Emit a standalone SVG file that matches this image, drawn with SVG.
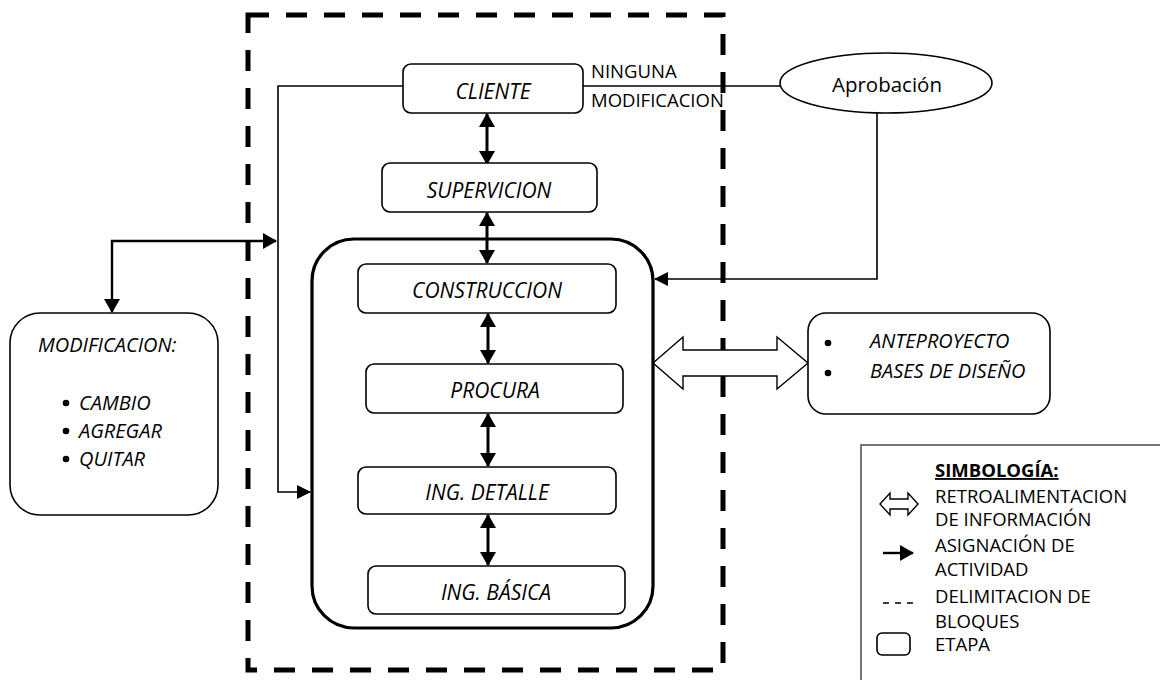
<svg xmlns="http://www.w3.org/2000/svg" width="1160" height="680" viewBox="0 0 1160 680">
  <style>
    text { font-family: "Open Sans", "Noto Sans", "Liberation Sans", sans-serif; fill: #000; }
    .lbl { font-size: 21px; font-style: italic; text-anchor: middle; }
    .it { font-size: 20px; font-style: italic; }
    .plain { font-size: 18.5px; }
    .stage { fill: #fff; stroke: #000; stroke-width: 1.6; }
    .wire { fill: none; stroke: #000; stroke-width: 1.6; }
    .dbl { fill: none; stroke: #000; stroke-width: 3; }
    .hollow { fill: #fff; stroke: #000; stroke-width: 1.4; stroke-linejoin: miter; }
  </style>
  <defs>
    <marker id="head" viewBox="0 0 14 16" refX="13" refY="8" markerWidth="14" markerHeight="16" markerUnits="userSpaceOnUse" orient="auto-start-reverse">
      <path d="M0,0 L14,8 L0,16 z" fill="#000"/>
    </marker>
    <marker id="headS" viewBox="0 0 14 14" refX="13" refY="7" markerWidth="14" markerHeight="14" markerUnits="userSpaceOnUse" orient="auto-start-reverse">
      <path d="M0,0 L14,7 L0,14 z" fill="#000"/>
    </marker>
  </defs>

  <rect width="1160" height="680" fill="#fff"/>

  <!-- block boundary -->
  <rect id="block" x="248" y="15" width="475" height="655" fill="none" stroke="#000" stroke-width="5" stroke-dasharray="21 17"/>

  <!-- connectors -->
  <g id="connectors">
    <path class="wire" d="M403 86 H278 V492 H310" marker-end="url(#headS)"/>
    <path class="wire" d="M583 86 H780"/>
    <path class="wire" d="M877 113 V279 H655" marker-end="url(#headS)"/>
    <path class="dbl" d="M112 312 V241 H276" marker-start="url(#head)" marker-end="url(#head)" style="stroke-width:2.4"/>
    <path class="dbl" d="M487 114 V164" marker-start="url(#head)" marker-end="url(#head)"/>
    <path class="dbl" d="M487 213 V263" marker-start="url(#head)" marker-end="url(#head)"/>
    <path class="dbl" d="M488 314 V363" marker-start="url(#head)" marker-end="url(#head)"/>
    <path class="dbl" d="M488 414 V466" marker-start="url(#head)" marker-end="url(#head)"/>
    <path class="dbl" d="M488 515 V565" marker-start="url(#head)" marker-end="url(#head)"/>
    <polygon class="hollow" points="653,363 683,337 683,350 777,350 777,337 808,363 777,389 777,376 683,376 683,389"/>
  </g>

  <!-- stage container -->
  <g id="etapas">
    <rect x="312" y="239" width="341" height="389" rx="42" fill="none" stroke="#000" stroke-width="3.2"/>
  </g>

  <g id="cliente">
    <rect class="stage" x="403" y="64" width="180" height="49" rx="8"/>
    <text class="lbl" x="493" y="99">CLIENTE</text>
  </g>
  <text class="plain" x="591" y="78">NINGUNA</text>
  <text class="plain" x="591" y="107">MODIFICACION</text>

  <g id="supervicion">
    <rect class="stage" x="382" y="163" width="215" height="49" rx="8"/>
    <text class="lbl" x="489" y="198">SUPERVICION</text>
  </g>

  <g id="construccion">
    <rect class="stage" x="358" y="264" width="258" height="49" rx="8"/>
    <text class="lbl" x="487" y="298">CONSTRUCCION</text>
  </g>

  <g id="procura">
    <rect class="stage" x="366" y="364" width="257" height="49" rx="8"/>
    <text class="lbl" x="495" y="398">PROCURA</text>
  </g>

  <g id="ing-detalle">
    <rect class="stage" x="358" y="467" width="258" height="47" rx="8"/>
    <text class="lbl" x="487" y="500">ING. DETALLE</text>
  </g>

  <g id="ing-basica">
    <rect class="stage" x="368" y="566" width="257" height="48" rx="8"/>
    <text class="lbl" x="496" y="600">ING. BÁSICA</text>
  </g>

  <g id="aprobacion">
    <ellipse cx="886" cy="83" rx="106" ry="30" fill="#fff" stroke="#000" stroke-width="1.6"/>
    <text x="887" y="92" style="font-size:20.5px; text-anchor:middle">Aprobación</text>
  </g>

  <g id="modificacion">
    <rect class="stage" x="10" y="313" width="208" height="202" rx="30"/>
    <text class="it" x="38" y="352">MODIFICACION:</text>
    <circle cx="66" cy="403" r="3.3"/>
    <text class="it" x="79" y="410">CAMBIO</text>
    <circle cx="66" cy="431" r="3.3"/>
    <text class="it" x="79" y="438">AGREGAR</text>
    <circle cx="66" cy="459" r="3.3"/>
    <text class="it" x="79" y="466">QUITAR</text>
  </g>

  <g id="insumos">
    <rect class="stage" x="808" y="313" width="242" height="101" rx="18"/>
    <circle cx="828" cy="343" r="3.3"/>
    <text class="it" x="870" y="348">ANTEPROYECTO</text>
    <circle cx="828" cy="373" r="3.3"/>
    <text class="it" x="870" y="378">BASES DE DISEÑO</text>
  </g>

  <!-- legend -->
  <g id="simbologia">
    <rect x="861" y="445" width="310" height="250" fill="#fff" stroke="#555" stroke-width="1.6"/>
    <text x="935" y="477" style="font-size:18.5px; font-weight:bold; text-decoration:underline">SIMBOLOGÍA:</text>
    <polygon class="hollow" points="880,504 890,493 890,499 908,499 908,493 918,504 908,515 908,509 890,509 890,515"/>
    <text class="plain" x="935" y="503">RETROALIMENTACION</text>
    <text class="plain" x="935" y="526">DE INFORMACIÓN</text>
    <path class="wire" d="M883 553 H913" style="stroke-width:2.4" marker-end="url(#head)"/>
    <text class="plain" x="935" y="552">ASIGNACIÓN DE</text>
    <text class="plain" x="935" y="576">ACTIVIDAD</text>
    <path d="M883 603 H913" stroke="#000" stroke-width="1.6" stroke-dasharray="6 6"/>
    <text class="plain" x="935" y="603">DELIMITACION DE</text>
    <text class="plain" x="935" y="628">BLOQUES</text>
    <rect x="877" y="633" width="33" height="22" rx="5" fill="#fff" stroke="#000" stroke-width="1.6"/>
    <text class="plain" x="935" y="651">ETAPA</text>
  </g>
</svg>
